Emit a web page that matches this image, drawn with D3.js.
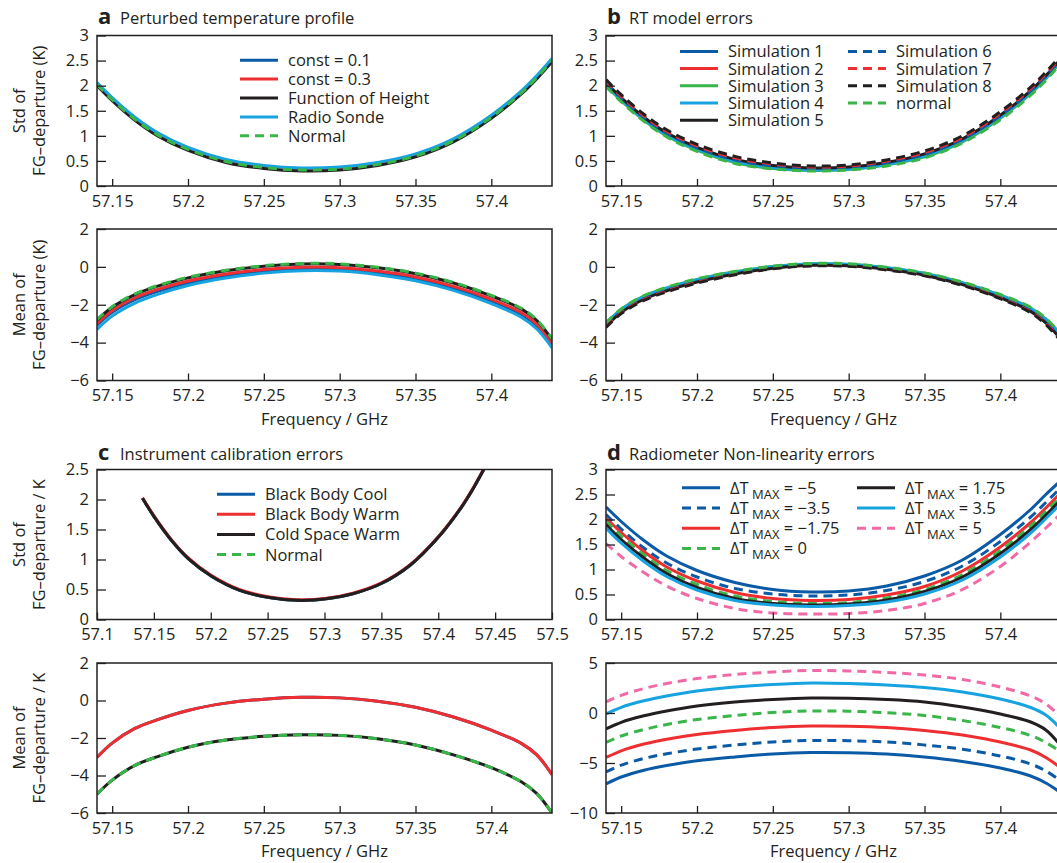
<!DOCTYPE html>
<html>
<head>
<meta charset="utf-8">
<script src="https://cdn.jsdelivr.net/npm/d3@7"></script>
<style>
	body { margin: 0; background: #fff; }
	text { font-family: "Open Sans", sans-serif; fill: #231f20; }
</style>
</head>
<body>
<svg class="mainsvg" width="1057" height="863"></svg>
<script>
// frequency grid (GHz) shared by every curve
var freq = [57.14, 57.15, 57.165, 57.18, 57.2, 57.225, 57.25, 57.275, 57.3, 57.325, 57.35, 57.375, 57.4, 57.42, 57.43, 57.44];

// a: perturbed temperature profile
var aStdConst01  = [2.04, 1.74, 1.35, 1.04, 0.75, 0.51, 0.39, 0.34, 0.36, 0.45, 0.62, 0.92, 1.39, 1.88, 2.18, 2.52];
var aStdConst03  = [2.03, 1.73, 1.34, 1.03, 0.74, 0.50, 0.38, 0.33, 0.35, 0.44, 0.61, 0.91, 1.38, 1.87, 2.17, 2.51];
var aStdHeight   = [2.00, 1.70, 1.31, 1.00, 0.71, 0.47, 0.35, 0.30, 0.32, 0.41, 0.58, 0.88, 1.35, 1.84, 2.14, 2.48];
var aStdSonde    = [2.06, 1.76, 1.37, 1.06, 0.77, 0.53, 0.41, 0.36, 0.38, 0.47, 0.64, 0.94, 1.41, 1.90, 2.20, 2.54];
var aStdNormal   = [2.02, 1.72, 1.33, 1.02, 0.73, 0.49, 0.37, 0.32, 0.34, 0.43, 0.60, 0.90, 1.37, 1.86, 2.16, 2.50];
var aMeanConst01 = [-3.08, -2.40, -1.73, -1.29, -0.85, -0.48, -0.24, -0.12, -0.14, -0.32, -0.63, -1.12, -1.80, -2.52, -3.13, -4.14];
var aMeanConst03 = [-2.98, -2.30, -1.63, -1.19, -0.75, -0.38, -0.14, -0.02, -0.04, -0.22, -0.53, -1.03, -1.71, -2.42, -3.03, -4.04];
var aMeanHeight  = [-2.81, -2.13, -1.46, -1.02, -0.58, -0.21, 0.03, 0.15, 0.13, -0.05, -0.36, -0.85, -1.53, -2.23, -2.83, -3.83];
var aMeanSonde   = [-3.30, -2.60, -1.91, -1.45, -0.98, -0.59, -0.33, -0.20, -0.22, -0.41, -0.73, -1.24, -1.94, -2.67, -3.28, -4.27];
var aMeanNormal  = [-2.78, -2.10, -1.43, -0.99, -0.55, -0.18, 0.06, 0.18, 0.16, -0.02, -0.33, -0.82, -1.50, -2.20, -2.80, -3.80];

// b: RT model errors
var bStdSim1   = [2.03, 1.73, 1.34, 1.03, 0.74, 0.50, 0.38, 0.33, 0.35, 0.44, 0.61, 0.91, 1.38, 1.87, 2.17, 2.51];
var bStdSim2   = [2.04, 1.74, 1.35, 1.04, 0.75, 0.51, 0.39, 0.34, 0.36, 0.45, 0.62, 0.92, 1.39, 1.88, 2.18, 2.52];
var bStdSim3   = [2.00, 1.70, 1.31, 1.00, 0.71, 0.47, 0.35, 0.31, 0.33, 0.42, 0.58, 0.88, 1.35, 1.84, 2.14, 2.48];
var bStdSim4   = [2.02, 1.72, 1.33, 1.02, 0.73, 0.49, 0.37, 0.32, 0.34, 0.43, 0.60, 0.90, 1.37, 1.86, 2.16, 2.50];
var bStdSim5   = [2.06, 1.76, 1.37, 1.06, 0.77, 0.53, 0.41, 0.36, 0.38, 0.47, 0.64, 0.94, 1.41, 1.90, 2.20, 2.54];
var bStdSim6   = [2.05, 1.75, 1.36, 1.05, 0.76, 0.52, 0.40, 0.35, 0.37, 0.46, 0.63, 0.93, 1.40, 1.89, 2.19, 2.53];
var bStdSim7   = [2.09, 1.79, 1.40, 1.09, 0.80, 0.56, 0.44, 0.38, 0.40, 0.50, 0.67, 0.97, 1.45, 1.94, 2.24, 2.57];
var bStdSim8   = [2.12, 1.82, 1.43, 1.12, 0.83, 0.59, 0.46, 0.40, 0.42, 0.52, 0.70, 1.00, 1.48, 1.97, 2.27, 2.60];
var bStdNormal = [1.98, 1.68, 1.29, 0.98, 0.69, 0.45, 0.34, 0.30, 0.32, 0.40, 0.56, 0.86, 1.32, 1.81, 2.11, 2.45];
var bMeanSim1   = [-3.04, -2.31, -1.61, -1.16, -0.71, -0.31, -0.01, 0.13, 0.11, -0.07, -0.38, -0.87, -1.54, -2.24, -2.83, -3.67];
var bMeanSim2   = [-3.07, -2.34, -1.64, -1.19, -0.74, -0.33, -0.03, 0.11, 0.09, -0.09, -0.40, -0.89, -1.57, -2.28, -2.87, -3.72];
var bMeanSim3   = [-2.98, -2.25, -1.55, -1.11, -0.66, -0.26, 0.02, 0.16, 0.14, -0.04, -0.34, -0.83, -1.49, -2.17, -2.75, -3.58];
var bMeanSim4   = [-3.00, -2.27, -1.57, -1.13, -0.68, -0.28, 0.01, 0.15, 0.13, -0.05, -0.36, -0.85, -1.51, -2.20, -2.78, -3.61];
var bMeanSim5   = [-3.14, -2.41, -1.71, -1.26, -0.80, -0.38, -0.07, 0.08, 0.06, -0.13, -0.44, -0.94, -1.63, -2.35, -2.96, -3.83];
var bMeanSim6   = [-3.10, -2.37, -1.67, -1.22, -0.77, -0.35, -0.05, 0.09, 0.07, -0.11, -0.42, -0.92, -1.60, -2.31, -2.91, -3.77];
var bMeanSim7   = [-3.16, -2.43, -1.73, -1.28, -0.82, -0.40, -0.08, 0.07, 0.05, -0.14, -0.45, -0.96, -1.65, -2.38, -2.99, -3.87];
var bMeanSim8   = [-3.20, -2.47, -1.77, -1.32, -0.86, -0.42, -0.10, 0.05, 0.03, -0.16, -0.47, -0.98, -1.68, -2.42, -3.04, -3.93];
var bMeanNormal = [-2.95, -2.22, -1.52, -1.08, -0.63, -0.24, 0.04, 0.18, 0.16, -0.02, -0.32, -0.80, -1.46, -2.14, -2.72, -3.55];

// c: instrument calibration errors
var cStdCool    = [2.02, 1.72, 1.33, 1.02, 0.73, 0.49, 0.37, 0.32, 0.34, 0.43, 0.60, 0.90, 1.37, 1.86, 2.16, 2.50];
var cStdWarm    = [2.03, 1.73, 1.34, 1.03, 0.74, 0.50, 0.38, 0.33, 0.35, 0.44, 0.61, 0.91, 1.38, 1.87, 2.17, 2.51];
var cStdCold    = [2.02, 1.72, 1.33, 1.02, 0.73, 0.49, 0.37, 0.32, 0.34, 0.43, 0.60, 0.90, 1.37, 1.86, 2.16, 2.50];
var cStdNormal  = [2.02, 1.72, 1.33, 1.02, 0.73, 0.49, 0.37, 0.32, 0.34, 0.43, 0.60, 0.90, 1.37, 1.86, 2.16, 2.50];
var cMeanCool   = [-3.03, -2.27, -1.49, -1.02, -0.53, -0.14, 0.07, 0.17, 0.14, -0.04, -0.36, -0.88, -1.58, -2.30, -2.90, -3.95];
var cMeanWarm   = [-3.03, -2.27, -1.49, -1.02, -0.53, -0.14, 0.07, 0.17, 0.14, -0.04, -0.36, -0.88, -1.58, -2.30, -2.90, -3.95];
var cMeanCold   = [-5.00, -4.25, -3.46, -2.99, -2.49, -2.11, -1.91, -1.83, -1.86, -2.04, -2.37, -2.90, -3.58, -4.35, -4.97, -6.00];
var cMeanNormal = [-5.00, -4.25, -3.46, -2.99, -2.49, -2.11, -1.91, -1.83, -1.86, -2.04, -2.37, -2.90, -3.58, -4.35, -4.97, -6.00];

// d: radiometer non-linearity errors, one series per ΔT_MAX
var dtMax = ['−5', '−3.5', '−1.75', '0', '1.75', '3.5', '5'];
var dStdM5   = [2.25, 1.96, 1.58, 1.27, 0.98, 0.74, 0.60, 0.55, 0.57, 0.67, 0.87, 1.19, 1.70, 2.20, 2.50, 2.78];
var dStdM35  = [2.10, 1.81, 1.43, 1.13, 0.85, 0.62, 0.51, 0.47, 0.49, 0.58, 0.76, 1.07, 1.56, 2.05, 2.34, 2.64];
var dStdM175 = [2.03, 1.74, 1.36, 1.05, 0.77, 0.54, 0.42, 0.38, 0.40, 0.49, 0.66, 0.97, 1.45, 1.94, 2.23, 2.54];
var dStd0    = [1.97, 1.67, 1.29, 0.98, 0.70, 0.47, 0.36, 0.32, 0.34, 0.43, 0.60, 0.90, 1.38, 1.87, 2.16, 2.46];
var dStdP175 = [1.90, 1.60, 1.23, 0.92, 0.64, 0.42, 0.32, 0.29, 0.31, 0.39, 0.56, 0.85, 1.32, 1.80, 2.09, 2.39];
var dStdP35  = [1.83, 1.53, 1.16, 0.86, 0.59, 0.38, 0.29, 0.26, 0.28, 0.35, 0.51, 0.79, 1.25, 1.73, 2.02, 2.32];
var dStdP5   = [1.52, 1.26, 0.94, 0.67, 0.42, 0.22, 0.13, 0.11, 0.12, 0.18, 0.32, 0.60, 1.06, 1.55, 1.83, 2.12];
var dMeanM5   = [-7.10, -6.40, -5.72, -5.25, -4.78, -4.40, -4.10, -3.95, -3.97, -4.10, -4.40, -4.85, -5.50, -6.30, -7.00, -8.00];
var dMeanM35  = [-5.90, -5.22, -4.55, -4.08, -3.60, -3.20, -2.90, -2.75, -2.77, -2.90, -3.20, -3.62, -4.30, -5.10, -5.80, -6.80];
var dMeanM175 = [-4.45, -3.78, -3.10, -2.62, -2.15, -1.75, -1.45, -1.30, -1.32, -1.45, -1.75, -2.20, -2.90, -3.70, -4.45, -5.50];
var dMean0    = [-2.95, -2.30, -1.65, -1.15, -0.65, -0.25, 0.05, 0.20, 0.18, 0.02, -0.25, -0.75, -1.45, -2.25, -2.95, -3.90];
var dMeanP175 = [-1.60, -0.93, -0.28, 0.20, 0.70, 1.10, 1.35, 1.50, 1.48, 1.35, 1.10, 0.60, -0.10, -0.90, -1.70, -3.30];
var dMeanP35  = [-0.10, 0.57, 1.22, 1.70, 2.20, 2.60, 2.85, 3.00, 2.95, 2.80, 2.55, 2.10, 1.40, 0.55, -0.20, -1.60];
var dMeanP5   = [1.10, 1.77, 2.45, 2.95, 3.45, 3.85, 4.10, 4.25, 4.20, 4.05, 3.80, 3.35, 2.60, 1.70, 0.90, -0.40];

// tick values
var freqTicks  = [57.15, 57.2, 57.25, 57.3, 57.35, 57.4];
var freqTicksC = [57.1, 57.15, 57.2, 57.25, 57.3, 57.35, 57.4, 57.45, 57.5];
var stdTicks3  = [0, 0.5, 1, 1.5, 2, 2.5, 3];
var stdTicks25 = [0, 0.5, 1, 1.5, 2, 2.5];
var meanTicks  = [-6, -4, -2, 0, 2];
var meanTicksD = [-10, -5, 0, 5];

var cBlue = '#0b5aa6', cRed = '#ee2e31', cGreen = '#3ab54a', cCyan = '#17a3e0', cBlack = '#231f20', cPink = '#f06aa6';
var DASH = '9,6';
var FS = '16.5px';

var svg = d3.select('.mainsvg');
var clipId = 0;

function fmt (v) {
	return d3.format('')(+v.toFixed(2)).replace('-', '−');
}

function drawPanel (p) {
	var x = d3.scaleLinear().domain(p.xDomain).range([p.left, p.right]);
	var y = d3.scaleLinear().domain(p.yDomain).range([p.bottom, p.top]);
	var g = svg.append('g');

	clipId++;
	svg.append('clipPath')
		.attr('id', 'clip' + clipId)
		.append('rect')
		.attr('x', p.left)
		.attr('y', p.top)
		.attr('width', p.right - p.left)
		.attr('height', p.bottom - p.top);

	var line = d3.line()
		.x(function (d) { return x(d[0]); })
		.y(function (d) { return y(d[1]); })
		.curve(d3.curveCatmullRom.alpha(0.5));

	g.append('g')
		.attr('clip-path', 'url(#clip' + clipId + ')')
		.selectAll('path')
		.data(p.series)
		.enter()
		.append('path')
		.attr('d', function (s) { return line(d3.zip(freq, s.values)); })
		.attr('fill', 'none')
		.attr('stroke', function (s) { return s.color; })
		.attr('stroke-width', 3)
		.attr('stroke-dasharray', function (s) { return s.dash ? DASH : null; });

	var xAxis = g.append('g')
		.attr('transform', 'translate(0,' + p.bottom + ')')
		.call(d3.axisBottom(x).tickValues(p.xTicks).tickFormat(fmt).tickSizeInner(-7).tickSizeOuter(0).tickPadding(9));
	var yAxis = g.append('g')
		.attr('transform', 'translate(' + p.left + ',0)')
		.call(d3.axisLeft(y).tickValues(p.yTicks).tickFormat(fmt).tickSizeInner(-9).tickSizeOuter(0).tickPadding(8));

	[xAxis, yAxis].forEach(function (a) {
		a.select('.domain').remove();
		a.selectAll('line').attr('stroke', '#231f20').attr('stroke-width', 1.3);
		a.selectAll('text')
			.attr('font-family', '"Open Sans", sans-serif')
			.attr('font-size', FS)
			.attr('fill', '#231f20');
	});

	g.append('rect')
		.attr('x', p.left)
		.attr('y', p.top)
		.attr('width', p.right - p.left)
		.attr('height', p.bottom - p.top)
		.attr('fill', 'none')
		.attr('stroke', '#231f20')
		.attr('stroke-width', 1.5);

	if (p.yLabel) {
		var cy = (p.top + p.bottom) / 2;
		p.yLabel.forEach(function (t, i) {
			svg.append('text')
				.attr('transform', 'translate(' + (25 + i * 20) + ',' + cy + ') rotate(-90)')
				.attr('font-size', FS)
				.style('text-anchor', 'middle')
				.text(t);
		});
	}
	if (p.xLabel) {
		svg.append('text')
			.attr('x', (p.left + p.right) / 2)
			.attr('y', p.bottom + 44)
			.attr('font-size', FS)
			.style('text-anchor', 'middle')
			.text('Frequency / GHz');
	}
}

function drawTitle (x, y, letter, title) {
	svg.append('text')
		.attr('x', x)
		.attr('y', y)
		.attr('font-size', '22px')
		.attr('font-weight', '700')
		.text(letter);
	svg.append('text')
		.attr('x', x + 22)
		.attr('y', y)
		.attr('font-size', FS)
		.text(title);
}

function drawLegend (items, x0, y0, rowH) {
	items.forEach(function (it, i) {
		var yy = y0 + i * rowH;
		svg.append('line')
			.attr('x1', x0)
			.attr('x2', x0 + 38)
			.attr('y1', yy)
			.attr('y2', yy)
			.attr('stroke', it.color)
			.attr('stroke-width', 3)
			.attr('stroke-dasharray', it.dash ? DASH : null);
		var t = svg.append('text')
			.attr('x', x0 + 48)
			.attr('y', yy + 6)
			.attr('font-size', FS);
		if (it.dt != null) {
			t.append('tspan').text('ΔT');
			t.append('tspan').attr('font-size', '13px').attr('dy', 5).text(' MAX');
			t.append('tspan').attr('dy', -5).text(' = ' + it.dt);
		} else {
			t.text(it.label);
		}
	});
}

var L = 97, R = 552, L2 = 606, R2 = 1061;
var stdLabel = ['Std of', 'FG–departure (K)'];
var meanLabel = ['Mean of', 'FG–departure (K)'];

// ---- a ----
var aStdSeries = [
	{label: 'const = 0.1', values: aStdConst01, color: cBlue},
	{label: 'const = 0.3', values: aStdConst03, color: cRed},
	{label: 'Function of Height', values: aStdHeight, color: cBlack},
	{label: 'Radio Sonde', values: aStdSonde, color: cCyan},
	{label: 'Normal', values: aStdNormal, color: cGreen, dash: true}
];
drawPanel({left: L, right: R, top: 35.5, bottom: 186, xDomain: [57.14, 57.44], yDomain: [0, 3],
	xTicks: freqTicks, yTicks: stdTicks3, series: aStdSeries, yLabel: stdLabel});
drawPanel({left: L, right: R, top: 229, bottom: 380.5, xDomain: [57.14, 57.44], yDomain: [-6, 2],
	xTicks: freqTicks, yTicks: meanTicks, yLabel: meanLabel, xLabel: true, series: [
		{values: aMeanConst01, color: cBlue},
		{values: aMeanConst03, color: cRed},
		{values: aMeanHeight, color: cBlack},
		{values: aMeanSonde, color: cCyan},
		{values: aMeanNormal, color: cGreen, dash: true}
	]});
drawTitle(98, 24, 'a', 'Perturbed temperature profile');
drawLegend(aStdSeries, 240, 60.2, 18.9);

// ---- b ----
var bStdSeries = [
	{label: 'Simulation 1', values: bStdSim1, color: cBlue},
	{label: 'Simulation 2', values: bStdSim2, color: cRed},
	{label: 'Simulation 3', values: bStdSim3, color: cGreen},
	{label: 'Simulation 4', values: bStdSim4, color: cCyan},
	{label: 'Simulation 5', values: bStdSim5, color: cBlack},
	{label: 'Simulation 6', values: bStdSim6, color: cBlue, dash: true},
	{label: 'Simulation 7', values: bStdSim7, color: cRed, dash: true},
	{label: 'Simulation 8', values: bStdSim8, color: cBlack, dash: true},
	{label: 'normal', values: bStdNormal, color: cGreen, dash: true}
];
drawPanel({left: L2, right: R2, top: 35.5, bottom: 186, xDomain: [57.14, 57.44], yDomain: [0, 3],
	xTicks: freqTicks, yTicks: stdTicks3, series: bStdSeries});
drawPanel({left: L2, right: R2, top: 229, bottom: 380.5, xDomain: [57.14, 57.44], yDomain: [-6, 2],
	xTicks: freqTicks, yTicks: meanTicks, xLabel: true, series: [
		{values: bMeanSim1, color: cBlue},
		{values: bMeanSim2, color: cRed},
		{values: bMeanSim3, color: cGreen},
		{values: bMeanSim4, color: cCyan},
		{values: bMeanSim5, color: cBlack},
		{values: bMeanSim6, color: cBlue, dash: true},
		{values: bMeanSim7, color: cRed, dash: true},
		{values: bMeanSim8, color: cBlack, dash: true},
		{values: bMeanNormal, color: cGreen, dash: true}
	]});
drawTitle(607, 24, 'b', 'RT model errors');
drawLegend(bStdSeries.slice(0, 5), 680, 51.4, 17.2);
drawLegend(bStdSeries.slice(5), 848, 51.4, 17.2);

// ---- c ----
drawPanel({left: L, right: R, top: 469.5, bottom: 619.5, xDomain: [57.1, 57.5], yDomain: [0, 2.5],
	xTicks: freqTicksC, yTicks: stdTicks25, yLabel: ['Std of', 'FG–departure / K'], series: [
		{values: cStdNormal, color: cGreen, dash: true},
		{values: cStdCool, color: cBlue},
		{values: cStdWarm, color: cRed},
		{values: cStdCold, color: cBlack}
	]});
drawPanel({left: L, right: R, top: 663, bottom: 813, xDomain: [57.14, 57.44], yDomain: [-6, 2],
	xTicks: freqTicks, yTicks: meanTicks, yLabel: ['Mean of', 'FG–departure / K'], xLabel: true, series: [
		{values: cMeanCool, color: cBlue},
		{values: cMeanWarm, color: cRed},
		{values: cMeanCold, color: cBlack},
		{values: cMeanNormal, color: cGreen, dash: true}
	]});
drawTitle(98, 460, 'c', 'Instrument calibration errors');
drawLegend([
	{label: 'Black Body Cool', color: cBlue},
	{label: 'Black Body Warm', color: cRed},
	{label: 'Cold Space Warm', color: cBlack},
	{label: 'Normal', color: cGreen, dash: true}
], 217, 494.2, 20.1);

// ---- d ----
var dColors = [cBlue, cBlue, cRed, cGreen, cBlack, cCyan, cPink];
var dDash = [false, true, false, true, false, false, true];
var dStd = [dStdM5, dStdM35, dStdM175, dStd0, dStdP175, dStdP35, dStdP5];
var dMean = [dMeanM5, dMeanM35, dMeanM175, dMean0, dMeanP175, dMeanP35, dMeanP5];
function dSeries (arrs) {
	return arrs.map(function (v, i) { return {values: v, color: dColors[i], dash: dDash[i], dt: dtMax[i]}; });
}
drawPanel({left: L2, right: R2, top: 469.5, bottom: 619.5, xDomain: [57.14, 57.44], yDomain: [0, 3],
	xTicks: freqTicks, yTicks: stdTicks3, series: dSeries(dStd)});
drawPanel({left: L2, right: R2, top: 663, bottom: 813, xDomain: [57.14, 57.44], yDomain: [-10, 5],
	xTicks: freqTicks, yTicks: meanTicksD, xLabel: true, series: dSeries(dMean)});
drawTitle(607, 460, 'd', 'Radiometer Non-linearity errors');
var dLeg = dSeries(dStd);
drawLegend(dLeg.slice(0, 4), 682, 487.8, 20.2);
drawLegend(dLeg.slice(4), 857, 487.8, 20.2);
</script>
</body>
</html>
